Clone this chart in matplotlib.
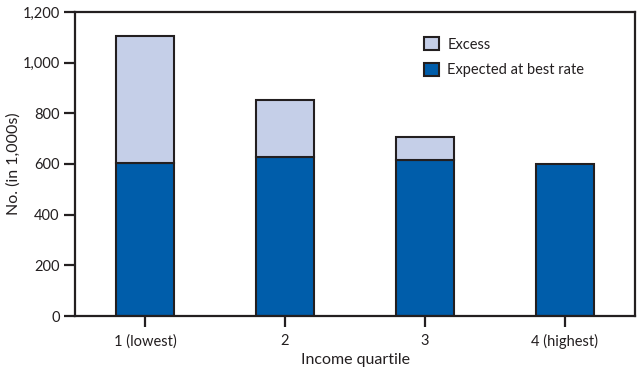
import matplotlib
matplotlib.use("Agg")
import matplotlib.pyplot as plt
from matplotlib.patches import Patch
from matplotlib.ticker import FuncFormatter

categories = ["1 (lowest)", "2", "3", "4 (highest)"]
expected = [604, 628, 617, 598]
excess = [502, 224, 88, 0]

plt.rcParams['font.family'] = ['Lato', 'DejaVu Sans']
dark = "#005daa"
light = "#c5cfe8"
edge = "#231f20"

fig = plt.figure(figsize=(6.44, 3.69), dpi=100)
ax = fig.add_axes([0.1165, 0.1436, 0.8695, 0.824])
x = list(range(len(categories)))
ax.bar(x, expected, width=0.41, color=dark, edgecolor=edge, linewidth=1.5, zorder=2)
xs = [xi for xi, e in zip(x, excess) if e > 0]
ex = [e for e in excess if e > 0]
bt = [b for b, e in zip(expected, excess) if e > 0]
ax.bar(xs, ex, width=0.41, bottom=bt, color=light, edgecolor=edge, linewidth=1.5, zorder=2)

ax.set_xlim(-0.5, 3.5)
ax.set_ylim(0, 1200)
ax.set_yticks(range(0, 1201, 200))
ax.yaxis.set_major_formatter(FuncFormatter(lambda v, p: f"{int(v):,}"))
ax.set_xticks(x)
ax.set_xticklabels(categories)
for s in ax.spines.values():
    s.set_linewidth(1.6)
    s.set_color(edge)
ax.tick_params(axis='both', direction='out', length=8, width=1.6, color=edge, labelsize=10.5, labelcolor="#231f20")
ax.tick_params(axis='y', pad=3)
ax.tick_params(axis='x', pad=5)
ax.set_xlabel("Income quartile", fontsize=11.5, color="#231f20", labelpad=3)
ax.set_ylabel("No. (in 1,000s)", fontsize=11.5, color="#231f20")
ax.yaxis.set_label_coords(-0.097, 0.5)

handles = [Patch(facecolor=light, edgecolor=edge, linewidth=1.5, label="Excess"),
           Patch(facecolor=dark, edgecolor=edge, linewidth=1.5, label="Expected at best rate")]
leg = ax.legend(handles=handles, loc="upper left", bbox_to_anchor=(0.6, 0.96), frameon=False,
                fontsize=10.5, handlelength=1.0, handleheight=1.0, handletextpad=0.6, labelspacing=0.75)
for t in leg.get_texts():
    t.set_color("#231f20")

fig.savefig("out.png", dpi=100)
